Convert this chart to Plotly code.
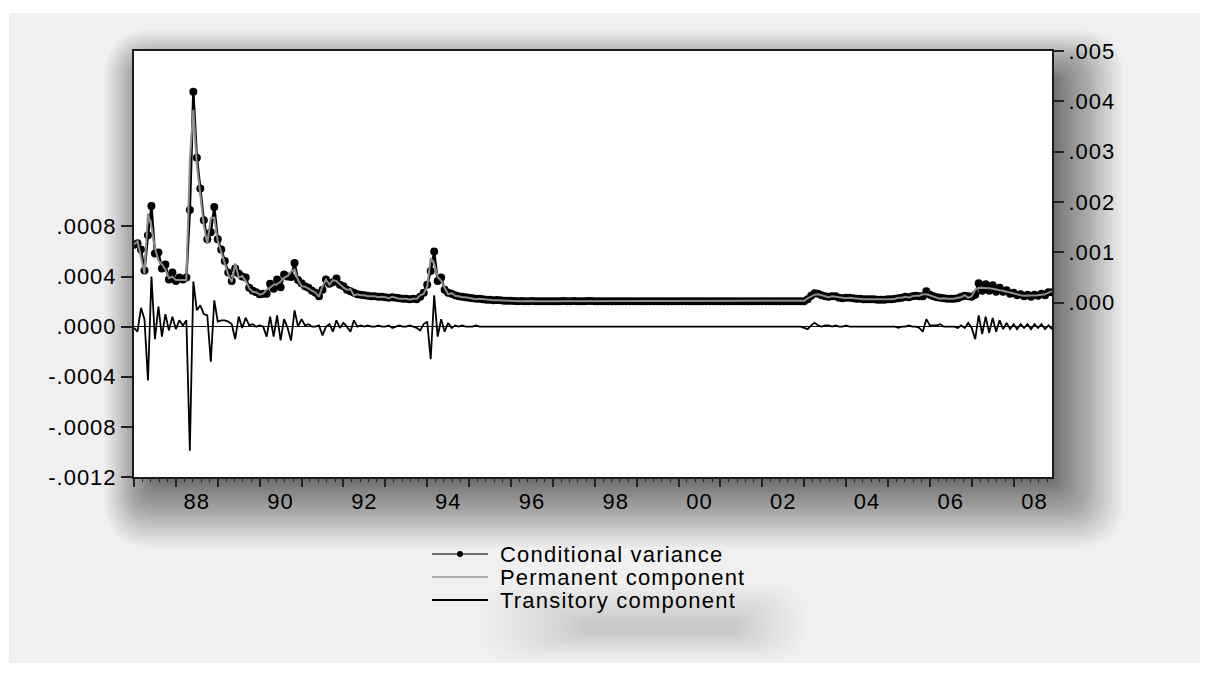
import plotly.graph_objects as go
import pandas as pd

# ---------------- data (values in units of 1e-4), monthly 1987M01-2008M12 ----------------
months = pd.date_range("1987-01-01", periods=264, freq="MS")

cond_var_e4 = [
    11.5, 11.8, 10.6, 6.4, 13.4, 19.2, 9.8, 10.0, 6.8, 7.6, 4.6, 6.0,      # 1987
    4.3, 5.0, 4.6, 5.0, 18.4, 41.9, 28.8, 22.7, 16.4, 12.6, 14.0, 19.0,    # 1988
    12.6, 10.6, 8.3, 6.0, 4.3, 6.8, 5.8, 5.2, 5.0, 3.0, 2.4, 2.1,          # 1989
    1.7, 1.8, 1.8, 3.8, 2.8, 4.6, 3.1, 5.6, 5.2, 5.1, 7.9, 4.5,            # 1990
    3.9, 3.3, 3.0, 2.4, 2.0, 1.3, 2.6, 4.6, 3.8, 4.1, 4.8, 3.6,            # 1991
    3.3, 2.6, 2.3, 2.0, 1.7, 1.6, 1.5, 1.4, 1.3, 1.3, 1.2, 1.2,            # 1992
    1.1, 1.0, 1.1, 1.0, 0.9, 0.8, 0.8, 0.7, 0.8, 0.7, 1.2, 2.0,            # 1993
    3.6, 6.3, 10.2, 4.3, 5.0, 2.6, 2.0, 1.8, 1.5, 1.3, 1.2, 1.1,           # 1994
    1.0, 0.9, 0.8, 0.8, 0.7, 0.6, 0.6, 0.5, 0.55, 0.5, 0.4, 0.4,           # 1995
    0.4, 0.35, 0.3, 0.35, 0.3, 0.3, 0.35, 0.3, 0.3, 0.3, 0.3, 0.3,         # 1996
    0.3, 0.3, 0.3, 0.35, 0.3, 0.3, 0.35, 0.3, 0.3, 0.3, 0.35, 0.35,        # 1997
    0.3, 0.3, 0.3, 0.3, 0.3, 0.3, 0.3, 0.3, 0.3, 0.3, 0.3, 0.3,            # 1998
    0.3, 0.3, 0.3, 0.3, 0.3, 0.3, 0.3, 0.3, 0.3, 0.3, 0.3, 0.3,            # 1999
    0.3, 0.3, 0.3, 0.3, 0.3, 0.3, 0.3, 0.3, 0.3, 0.3, 0.3, 0.3,            # 2000
    0.3, 0.3, 0.3, 0.3, 0.3, 0.3, 0.3, 0.3, 0.3, 0.3, 0.3, 0.3,            # 2001
    0.3, 0.3, 0.3, 0.3, 0.3, 0.3, 0.3, 0.3, 0.3, 0.3, 0.3, 0.3,            # 2002
    0.3, 0.7, 1.4, 1.9, 1.8, 1.5, 1.3, 1.2, 1.3, 1.3, 1.0, 0.9,            # 2003
    1.0, 1.0, 0.9, 0.8, 0.8, 0.7, 0.7, 0.7, 0.7, 0.6, 0.6, 0.6,            # 2004
    0.7, 0.7, 0.8, 0.9, 1.0, 1.2, 1.1, 1.3, 1.4, 1.3, 1.3, 2.3,            # 2005
    1.6, 1.3, 1.1, 1.0, 0.9, 0.8, 0.8, 0.8, 0.9, 1.2, 1.4, 1.3,            # 2006
    1.2, 1.6, 3.9, 2.4, 3.7, 2.4, 3.5, 2.2, 3.0, 2.2, 2.5, 1.8,            # 2007
    2.0, 1.5, 1.7, 1.3, 1.6, 1.2, 1.6, 1.4, 1.8, 1.5, 2.1, 2.1,            # 2008
]

permanent_e4 = [
    11.6, 12.2, 9.1, 5.8, 17.7, 15.2, 10.8, 8.4, 7.6, 6.6, 4.9, 5.2,       # 1987
    4.5, 4.5, 4.5, 4.5, 28.3, 38.3, 27.5, 21.0, 15.4, 11.7, 16.8, 16.9,    # 1988
    12.2, 10.1, 7.8, 5.6, 4.1, 7.8, 5.0, 5.3, 4.3, 2.9, 2.2, 2.1,          # 1989
    1.6, 1.8, 2.6, 3.0, 3.6, 3.7, 4.2, 5.0, 5.3, 6.2, 6.6, 4.5,            # 1990
    3.3, 3.2, 2.8, 2.4, 2.0, 1.2, 3.3, 4.6, 3.6, 4.5, 4.3, 3.7,            # 1991
    3.0, 2.6, 2.7, 1.5, 1.7, 1.5, 1.5, 1.3, 1.3, 1.3, 1.1, 1.2,            # 1992
    1.1, 0.9, 1.2, 1.0, 0.8, 0.8, 0.8, 0.6, 0.8, 0.8, 1.5, 1.8,            # 1993
    3.2, 8.9, 7.7, 5.1, 4.4, 3.0, 1.7, 1.9, 1.4, 1.3, 1.1, 1.1,            # 1994
    1.0, 0.9, 0.7, 0.8, 0.7, 0.6, 0.6, 0.5, 0.5, 0.5, 0.4, 0.4,            # 1995
    0.4, 0.35, 0.3, 0.35, 0.3, 0.3, 0.35, 0.3, 0.3, 0.3, 0.3, 0.3,         # 1996
    0.3, 0.3, 0.3, 0.35, 0.3, 0.3, 0.35, 0.3, 0.3, 0.3, 0.3, 0.35,         # 1997
    0.3, 0.3, 0.3, 0.3, 0.3, 0.3, 0.3, 0.3, 0.3, 0.3, 0.3, 0.3,            # 1998
    0.3, 0.3, 0.3, 0.3, 0.3, 0.3, 0.3, 0.3, 0.3, 0.3, 0.3, 0.3,            # 1999
    0.3, 0.3, 0.3, 0.3, 0.3, 0.3, 0.3, 0.3, 0.3, 0.3, 0.3, 0.3,            # 2000
    0.3, 0.3, 0.3, 0.3, 0.3, 0.3, 0.3, 0.3, 0.3, 0.3, 0.3, 0.3,            # 2001
    0.3, 0.3, 0.3, 0.3, 0.3, 0.3, 0.3, 0.3, 0.3, 0.3, 0.3, 0.3,            # 2002
    0.4, 0.9, 1.3, 1.6, 1.7, 1.5, 1.2, 1.1, 1.3, 1.2, 1.0, 0.9,            # 2003
    0.9, 1.0, 0.9, 0.8, 0.8, 0.7, 0.7, 0.7, 0.7, 0.6, 0.6, 0.6,            # 2004
    0.7, 0.7, 0.8, 1.0, 1.0, 1.2, 1.0, 1.3, 1.4, 1.4, 1.7, 1.7,            # 2005
    1.5, 1.2, 1.0, 0.8, 0.9, 0.8, 0.8, 0.8, 1.0, 1.1, 1.5, 1.0,            # 2006
    1.3, 2.6, 3.0, 3.0, 2.9, 2.9, 2.8, 2.6, 2.5, 2.4, 2.2, 2.0,            # 2007
    1.8, 1.7, 1.5, 1.4, 1.4, 1.4, 1.4, 1.5, 1.6, 1.7, 2.0, 2.3,            # 2008
]

transitory_e4 = [
    -0.1, -0.4, 1.5, 0.6, -4.3, 4.0, -1.0, 1.6, -0.8, 1.0, -0.3, 0.8,      # 1987
    -0.2, 0.5, 0.1, 0.5, -9.9, 3.6, 1.3, 1.7, 1.0, 0.9, -2.8, 2.1,         # 1988
    0.4, 0.5, 0.5, 0.4, 0.2, -1.0, 0.8, -0.1, 0.7, 0.1, 0.2, 0.0,          # 1989
    0.1, 0.0, -0.8, 0.8, -0.8, 0.9, -1.1, 0.6, -0.1, -1.1, 1.3, 0.0,       # 1990
    0.6, 0.1, 0.2, 0.0, 0.0, 0.1, -0.7, 0.0, 0.2, -0.4, 0.5, -0.1,         # 1991
    0.3, 0.0, -0.4, 0.5, 0.0, 0.1, 0.0, 0.1, 0.0, 0.0, 0.1, 0.0,           # 1992
    0.0, 0.1, -0.1, 0.0, 0.1, 0.0, 0.0, 0.1, 0.0, -0.1, -0.3, 0.2,         # 1993
    0.4, -2.6, 2.5, -0.8, 0.6, -0.4, 0.3, -0.1, 0.1, 0.0, 0.1, 0.0,        # 1994
    0.0, 0.0, 0.1, 0.0, 0.0, 0.0, 0.0, 0.0, 0.05, 0.0, 0.0, 0.0,           # 1995
    0.0, 0.0, 0.0, 0.0, 0.0, 0.0, 0.0, 0.0, 0.0, 0.0, 0.0, 0.0,            # 1996
    0.0, 0.0, 0.0, 0.0, 0.0, 0.0, 0.0, 0.0, 0.0, 0.0, 0.05, 0.0,           # 1997
    0.0, 0.0, 0.0, 0.0, 0.0, 0.0, 0.0, 0.0, 0.0, 0.0, 0.0, 0.0,            # 1998
    0.0, 0.0, 0.0, 0.0, 0.0, 0.0, 0.0, 0.0, 0.0, 0.0, 0.0, 0.0,            # 1999
    0.0, 0.0, 0.0, 0.0, 0.0, 0.0, 0.0, 0.0, 0.0, 0.0, 0.0, 0.0,            # 2000
    0.0, 0.0, 0.0, 0.0, 0.0, 0.0, 0.0, 0.0, 0.0, 0.0, 0.0, 0.0,            # 2001
    0.0, 0.0, 0.0, 0.0, 0.0, 0.0, 0.0, 0.0, 0.0, 0.0, 0.0, 0.0,            # 2002
    -0.1, -0.2, 0.1, 0.3, 0.1, 0.0, 0.1, 0.1, 0.0, 0.1, 0.0, 0.0,          # 2003
    0.1, 0.0, 0.0, 0.0, 0.0, 0.0, 0.0, 0.0, 0.0, 0.0, 0.0, 0.0,            # 2004
    0.0, 0.0, 0.0, -0.1, 0.0, 0.0, 0.1, 0.0, 0.0, -0.1, -0.4, 0.6,         # 2005
    0.1, 0.1, 0.1, 0.2, 0.0, 0.0, 0.0, 0.0, -0.1, 0.1, -0.1, 0.3,          # 2006
    -0.1, -1.0, 0.9, -0.6, 0.8, -0.5, 0.7, -0.4, 0.5, -0.2, 0.3, -0.2,     # 2007
    0.2, -0.2, 0.2, -0.1, 0.2, -0.2, 0.2, -0.1, 0.2, -0.2, 0.1, -0.2,      # 2008
]

series_names = ["Conditional variance", "Permanent component", "Transitory component"]

label_years = [1988, 1990, 1992, 1994, 1996, 1998, 2000, 2002, 2004, 2006, 2008]
year_labels = ["88", "90", "92", "94", "96", "98", "00", "02", "04", "06", "08"]

left_tick_vals = [-0.0012, -0.0008, -0.0004, 0.0, 0.0004, 0.0008]
left_tick_text = ["-.0012", "-.0008", "-.0004", ".0000", ".0004", ".0008"]
right_tick_vals = [0.0, 0.001, 0.002, 0.003, 0.004, 0.005]
right_tick_text = [".000", ".001", ".002", ".003", ".004", ".005"]

UNIT = 1e-4
x = [d.year + (d.month - 1) / 12 for d in months]
cond_var = [v * UNIT for v in cond_var_e4]
permanent = [v * UNIT for v in permanent_e4]
transitory = [v * UNIT for v in transitory_e4]

# ---------------- figure ----------------
FONT = "Liberation Sans, Arial, sans-serif"
L, R, T, B = 134, 1052, 51, 477          # plot-area pixel box
W, H = R - L, B - T
X_RANGE = [x[0], x[-1]]


def wide(s, sp=1.0):
    return '<span style="letter-spacing:%.1fpx">%s</span>' % (sp, s)


fig = go.Figure()
fig.add_trace(go.Scatter(
    x=x, y=cond_var, name=series_names[0], xaxis="x", yaxis="y2",
    mode="lines+markers", line=dict(color="black", width=2.4),
    marker=dict(color="black", size=8)))
fig.add_trace(go.Scatter(
    x=x, y=permanent, name=series_names[1], xaxis="x", yaxis="y2",
    mode="lines", line=dict(color="#8e8e8e", width=2)))
fig.add_trace(go.Scatter(
    x=x, y=transitory, name=series_names[2], xaxis="x2", yaxis="y",
    mode="lines", line=dict(color="black", width=1.8)))


def px(v):
    return (v - L) / W


def py(v):
    return (B - v) / H


def rect(x0, y0, x1, y1, fill, layer="below"):
    return dict(type="rect", xref="paper", yref="paper",
                x0=px(x0), x1=px(x1), y0=py(y1), y1=py(y0),
                fillcolor=fill, line=dict(width=0), layer=layer)


def rounded(x0, y0, x1, y1, r, fill):
    r = max(0.0, min(r, (x1 - x0) / 2, (y1 - y0) / 2))
    pts = [("M", x0 + r, y0), ("L", x1 - r, y0), ("Q", x1, y0, x1, y0 + r),
           ("L", x1, y1 - r), ("Q", x1, y1, x1 - r, y1), ("L", x0 + r, y1),
           ("Q", x0, y1, x0, y1 - r), ("L", x0, y0 + r), ("Q", x0, y0, x0 + r, y0)]
    parts = []
    for p in pts:
        cmd, coords = p[0], p[1:]
        xy = []
        for i in range(0, len(coords), 2):
            xy.append("%.5f,%.5f" % (px(coords[i]), py(coords[i + 1])))
        parts.append(cmd + " ".join(xy))
    return dict(type="path", xref="paper", yref="paper", path=" ".join(parts) + " Z",
                fillcolor=fill, line=dict(width=0), layer="below")


shapes = []
# light grey panel
shapes.append(rect(9, 13, 1200, 663, "#f0f0f0"))
# soft drop shadow of the plot frame (many translucent rounded layers)
N = 60
for k in range(N):
    e = ((k + 1) / N) ** 1.4
    shapes.append(rounded(L + 22 - 52 * e, T + 32 - 54 * e,
                          R - 2 + 74 * e, B + 72 * e, 4 + 45 * e,
                          "rgba(0,0,0,0.013)"))
# soft shadow beneath the legend
NL = 40
for k in range(NL):
    e = ((k + 1) / NL) ** 1.3
    shapes.append(rounded(585 - 110 * e, 620 - 38 * e, 735 + 75 * e, 634 + 26 * e,
                          6 + 40 * e, "rgba(0,0,0,0.0058)"))
# white plotting area
shapes.append(rect(L, T, R, B, "white"))

# legend (manual, EViews style)
leg_rows = [554, 577, 600]
leg_colors = ["#444444", "#999999", "black"]
leg_widths = [1.5, 1.5, 2]
annotations = []
for name, yy, col, lw in zip(series_names, leg_rows, leg_colors, leg_widths):
    shapes.append(dict(type="line", xref="paper", yref="paper",
                       x0=px(432), x1=px(488), y0=py(yy), y1=py(yy),
                       line=dict(color=col, width=lw), layer="above"))
    annotations.append(dict(xref="paper", yref="paper", x=px(498), y=py(yy),
                            text=wide(name, 1.2), showarrow=False, xanchor="left",
                            yanchor="middle",
                            font=dict(family=FONT, size=22, color="black")))
shapes.append(dict(type="circle", xref="paper", yref="paper",
                   x0=px(457), x1=px(463), y0=py(leg_rows[0] + 3),
                   y1=py(leg_rows[0] - 3), fillcolor="black",
                   line=dict(width=0), layer="above"))

axis_line = dict(showline=True, mirror=True, linecolor="#1a1a1a", linewidth=2)
tick_font = dict(family=FONT, size=22, color="black")

fig.update_layout(
    width=1206, height=675,
    margin=dict(l=L, r=1206 - R, t=T, b=675 - B),
    paper_bgcolor="white", plot_bgcolor="rgba(0,0,0,0)",
    showlegend=False,
    font=dict(family=FONT, size=22, color="black"),
    shapes=shapes, annotations=annotations,
    xaxis=dict(range=X_RANGE, tickmode="array",
               tickvals=[yr + 0.5 for yr in label_years],
               ticktext=[wide(t, 1.0) for t in year_labels],
               ticks="outside", ticklen=4, tickcolor="rgba(0,0,0,0)",
               showgrid=False, zeroline=False, tickfont=tick_font, **axis_line),
    xaxis2=dict(range=X_RANGE, overlaying="x", anchor="y", side="bottom",
                tickmode="linear", tick0=1987, dtick=1,
                ticks="outside", ticklen=9, tickwidth=1.5, tickcolor="#222",
                showticklabels=False, showline=False, showgrid=False, zeroline=False,
                minor=dict(ticks="outside", ticklen=4, tickwidth=1.2,
                           tickcolor="#222", tick0=1987, dtick=0.2, showgrid=False)),
    yaxis=dict(range=[-0.0012, 0.0022], tickmode="array",
               tickvals=left_tick_vals,
               ticktext=[wide(t, 1.0) for t in left_tick_text],
               ticks="outside", ticklen=11, tickwidth=1.5, tickcolor="#222",
               showgrid=False, zeroline=True, zerolinecolor="#111",
               zerolinewidth=1, tickfont=tick_font, **axis_line),
    yaxis2=dict(range=[-0.00346, 0.005], overlaying="y", side="right",
                anchor="x", tickmode="array",
                tickvals=right_tick_vals,
                ticktext=[wide(t, 1.0) for t in right_tick_text],
                ticks="outside", ticklen=11, tickwidth=1.5, tickcolor="#222",
                showline=False, showgrid=False, zeroline=False,
                tickfont=tick_font),
)

fig.write_html("out.html")
